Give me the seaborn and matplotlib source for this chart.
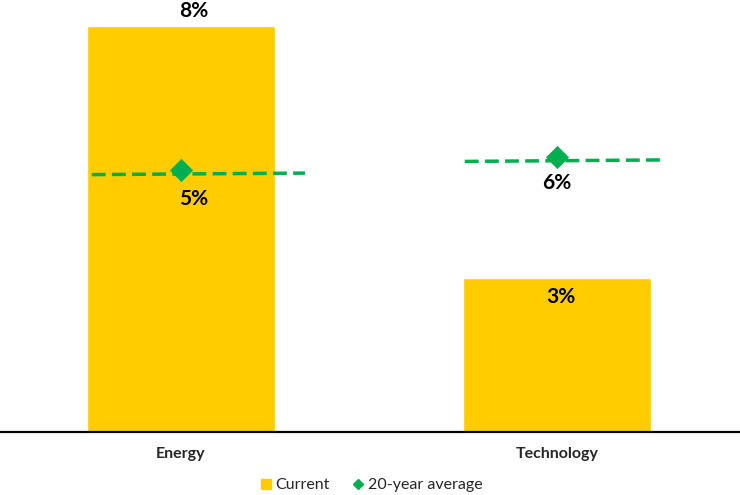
import matplotlib
matplotlib.use("Agg")
import matplotlib.pyplot as plt
from matplotlib.lines import Line2D
import seaborn as sns
import pandas as pd

categories = ["Energy", "Technology"]
current = [8.0, 3.03]
avg_20yr = [5.16, 5.42]
avg_line = [5.07, 5.33]
current_labels = ["8%", "3%"]
avg_labels = ["5%", "6%"]

YELLOW = "#FFCC00"
GREEN = "#00AF50"

sns.set_theme(style="white")
plt.rcParams["font.family"] = ["Lato", "DejaVu Sans"]

df = pd.DataFrame({"sector": categories, "current": current, "avg": avg_20yr})

fig = plt.figure(figsize=(7.4, 4.95), dpi=100)
ax = fig.add_axes([0, 0.1273, 1, 0.8727])

sns.barplot(data=df, x="sector", y="current", color=YELLOW, width=0.5,
            saturation=1, ax=ax)

line_ext = [(-0.237, 0.33), (-0.245, 0.287)]
for i, v in enumerate(avg_line):
    l, r = line_ext[i]
    ax.plot([i + l, i + r], [v, v + 0.03], color=GREEN, lw=2.5,
            linestyle=(0, (4, 1.8)), zorder=3)

sns.scatterplot(data=df, x="sector", y="avg", marker="D", s=140, color=GREEN,
                edgecolor=GREEN, linewidth=0, ax=ax, zorder=4)

# value labels
cur_off = [(0.035, 0.3), (0.01, -0.37)]
avg_off = [(0.035, -0.57), (0.0, -0.52)]
for i, (v, lab) in enumerate(zip(current, current_labels)):
    dx, dy = cur_off[i]
    ax.text(i + dx, v + dy, lab, ha="center", va="center", fontsize=15,
            fontweight="bold", color="black", zorder=5)
for i, (v, lab) in enumerate(zip(avg_20yr, avg_labels)):
    dx, dy = avg_off[i]
    ax.text(i + dx, v + dy, lab, ha="center", va="center", fontsize=15,
            fontweight="bold", color="black", zorder=5)

ax.set_xlim(-0.481, 1.487)
ax.set_ylim(0, 8.51)
ax.set_xlabel("")
ax.set_ylabel("")
ax.set_yticks([])
ax.tick_params(axis="x", length=0, pad=11)
for t in ax.get_xticklabels():
    t.set_fontweight("bold")
    t.set_fontsize(11.5)
for s in ["top", "left", "right"]:
    ax.spines[s].set_visible(False)
ax.spines["bottom"].set_color("black")
ax.spines["bottom"].set_linewidth(1.6)

handles = [
    Line2D([0], [0], marker="s", color="none", markerfacecolor=YELLOW,
           markeredgecolor=YELLOW, markersize=7.5, label="Current"),
    Line2D([0], [0], marker="D", color="none", markerfacecolor=GREEN,
           markeredgecolor=GREEN, markersize=5, label="20-year average"),
]
fig.legend(handles=handles, loc="center", bbox_to_anchor=(0.5, 0.02), ncol=2,
           frameon=False, fontsize=11.5, handletextpad=0.1, columnspacing=1.3,
           handlelength=1.0)

fig.savefig("out.png", dpi=100)
